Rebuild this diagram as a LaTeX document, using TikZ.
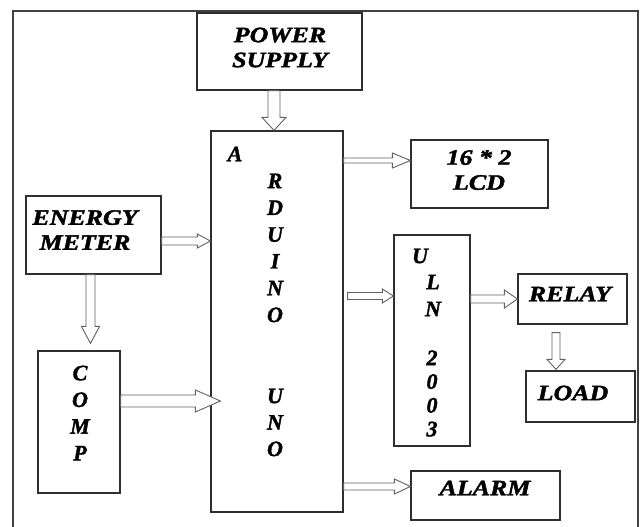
\documentclass[tikz,border=0pt]{standalone}
\usepackage{fontspec}
\setmainfont{Liberation Serif}
\newfontfamily\lblfont{Liberation Serif}[FakeBold=1.6]
\usetikzlibrary{calc}
\newcommand{\lbl}[1]{\scalebox{1.18}[1]{#1}}
\newcommand{\harrow}[8]{%
  \draw[barrow] let \p1=#1, \p2=#2 in
    ({\x1+(#7)*1pt},{-(#3-#4)*1pt}) -- ({\x2+(#8)*1pt-(#6)*1pt},{-(#3-#4)*1pt})
    -- ({\x2+(#8)*1pt-(#6)*1pt},{-(#3-#5)*1pt}) -- ({\x2+(#8)*1pt},{-(#3)*1pt})
    -- ({\x2+(#8)*1pt-(#6)*1pt},{-(#3+#5)*1pt}) -- ({\x2+(#8)*1pt-(#6)*1pt},{-(#3+#4)*1pt})
    -- ({\x1+(#7)*1pt},{-(#3+#4)*1pt}) -- cycle;}
\newcommand{\varrow}[8]{%
  \draw[barrow] let \p1=#1, \p2=#2 in
    ({(#3-#4)*1pt},{\y1-(#7)*1pt}) -- ({(#3-#4)*1pt},{\y2-(#8)*1pt+(#6)*1pt})
    -- ({(#3-#5)*1pt},{\y2-(#8)*1pt+(#6)*1pt}) -- ({(#3)*1pt},{\y2-(#8)*1pt})
    -- ({(#3+#5)*1pt},{\y2-(#8)*1pt+(#6)*1pt}) -- ({(#3+#4)*1pt},{\y2-(#8)*1pt+(#6)*1pt})
    -- ({(#3+#4)*1pt},{\y1-(#7)*1pt}) -- cycle;}
\begin{document}
\begin{tikzpicture}[x=1pt,y=-1pt,
  box/.style={draw=black!82, line width=1.2pt, fill=white, inner sep=0pt},
  barrow/.style={draw=black!62, line width=0.9pt, fill=white, line join=miter},
  txt/.style={font=\fontsize{22}{25}\selectfont\lblfont\bfseries\itshape, inner sep=0pt, align=center, text=black},
  stack/.style={font=\fontsize{22}{#1}\selectfont\lblfont\bfseries\itshape, inner sep=0pt, align=center, text=black}]
\useasboundingbox (0,0) rectangle (641,527);
\clip (0,0) rectangle (641,527);
\fill[white] (0,0) rectangle (641,527);
% frame
\draw[black!75, line width=1.2pt] (13,540) -- (13,11) -- (638,11) -- (638,540);
% boxes
\node[box, minimum width=165pt, minimum height=77pt] (ps) at (279.5,51.5) {};
\node[box, minimum width=132pt, minimum height=381pt] (ard) at (277,321.5) {};
\node[box, minimum width=135pt, minimum height=78pt] (em) at (93.5,235) {};
\node[box, minimum width=82pt, minimum height=142pt] (comp) at (79,422) {};
\node[box, minimum width=137pt, minimum height=68pt] (lcd) at (479.5,174) {};
\node[box, minimum width=76pt, minimum height=211pt] (uln) at (432,340.5) {};
\node[box, minimum width=109pt, minimum height=50pt] (relay) at (572.5,299) {};
\node[box, minimum width=109pt, minimum height=51pt] (load) at (580.5,396.5) {};
\node[box, minimum width=149pt, minimum height=49pt] (alarm) at (485.5,495.5) {};
% texts
\node[txt] (pst) at (280,47.5) {\lbl{POWER}\\\lbl{SUPPLY}};
\node[txt] (emt) at (85,230) {\lbl{ENERGY}\\\lbl{METER}};
\node[txt] (lcdt) at (479,170) {\lbl{16 * 2}\\\lbl{LCD}};
\node[txt] (relayt) at (570,294) {\lbl{RELAY}};
\node[txt] (loadt) at (573,393) {\lbl{LOAD}};
\node[txt] (alarmt) at (485,488) {\lbl{ALARM}};
\node[txt] (ardA) at (235,154) {A};
\node[stack=26.8] (ardR) at (275,248) {R\\D\\U\\I\\N\\O};
\node[stack=26.5] (ardU) at (275,422.5) {U\\N\\O};
\node[txt] (ulnU) at (420,256) {U};
\node[stack=27] (ulnL) at (433,295.5) {L\\N};
\node[stack=23.7] (ulnD) at (432,393.5) {2\\0\\0\\3};
\node[stack=26.7] (compt) at (80,413) {C\\O\\M\\P};
% block arrows
\varrow{(ps.south)}{(ard.north)}{274}{6}{12}{13}{0}{0}
\varrow{(em.south)}{(comp.north)}{90.5}{4.5}{9}{17}{0}{-7}
\varrow{(relay.south)}{(load.north)}{556}{4}{9}{10}{8}{-1}
\harrow{(em.east)}{(ard.west)}{241}{4}{7}{13}{0}{0}
\harrow{(comp.east)}{(ard.west)}{401}{6}{11}{25}{0}{10}
\harrow{(ard.east)}{(lcd.west)}{160.5}{2.5}{7.5}{18}{0}{0}
\harrow{(ard.east)}{(uln.west)}{296}{3.5}{7}{11}{4}{0}
\harrow{(uln.east)}{(relay.west)}{299}{4}{9}{13}{0}{0}
\harrow{(ard.east)}{(alarm.west)}{486.5}{3.5}{7.5}{16}{0}{0}
\end{tikzpicture}
\end{document}
